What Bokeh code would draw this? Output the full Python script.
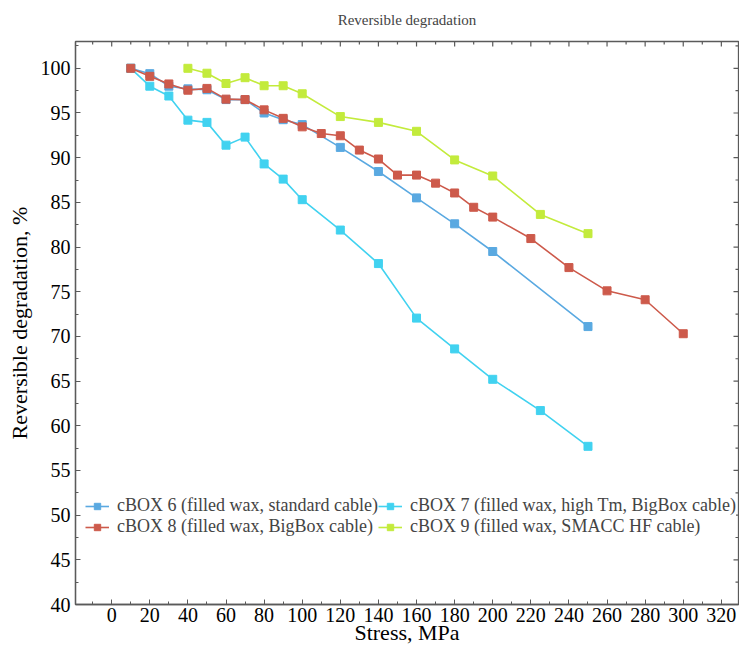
import math
from bokeh.plotting import figure
from bokeh.models import (LinearAxis, SingleIntervalTicker, Range1d, Legend, LegendItem)
from bokeh.embed import file_html
from bokeh.resources import INLINE

# ---- data ----
x6 = [10, 20, 30, 40, 50, 60, 70, 80, 90, 100, 120, 140, 160, 180, 200, 250]
y6 = [100, 99.4, 98.0, 97.7, 97.6, 96.5, 96.5, 95.0, 94.25, 93.7, 91.15, 88.45, 85.5, 82.6, 79.5, 71.1]

x7 = [10, 20, 30, 40, 50, 60, 70, 80, 90, 100, 120, 140, 160, 180, 200, 225, 250]
y7 = [100, 98.0, 96.9, 94.2, 93.95, 91.4, 92.3, 89.3, 87.6, 85.3, 81.9, 78.15, 72.05, 68.6, 65.2, 61.7, 57.7]

x8 = [10, 20, 30, 40, 50, 60, 70, 80, 90, 100, 110, 120, 130, 140, 150, 160, 170, 180, 190, 200, 220, 240, 260, 280, 300]
y8 = [100, 99.1, 98.25, 97.55, 97.75, 96.55, 96.5, 95.35, 94.4, 93.45, 92.7, 92.45, 90.85, 89.85, 88.05, 88.05, 87.15, 86.05, 84.45, 83.35, 80.95, 77.7, 75.1, 74.1, 70.3]

x9 = [40, 50, 60, 70, 80, 90, 100, 120, 140, 160, 180, 200, 225, 250]
y9 = [100, 99.45, 98.3, 98.95, 98.05, 98.05, 97.15, 94.6, 93.95, 92.95, 89.75, 87.95, 83.65, 81.5]

labels = [
    "cBOX 6 (filled wax, standard cable)",
    "cBOX 7 (filled wax, high Tm, BigBox cable)",
    "cBOX 8 (filled wax, BigBox cable)",
    "cBOX 9 (filled wax, SMACC HF cable)",
]
colors = ["#5aa9e1", "#41d2f0", "#cd5a4b", "#c3eb3c"]

title_text = "Reversible degradation"
xlabel = "Stress, MPa"
ylabel = "Reversible degradation, %"

XMIN, XMAX = -19, 329
YMIN, YMAX = 40, 103

FONT = "Liberation Serif"
AXIS_COLOR = "#5a5a5a"

p = figure(width=739, height=651, output_backend="svg", toolbar_location=None,
           x_range=Range1d(XMIN, XMAX), y_range=Range1d(YMIN, YMAX),
           min_border_left=75, min_border_right=1, min_border_top=41, min_border_bottom=47,
           x_axis_type=None, y_axis_type=None)

p.title.text = title_text
p.title.align = "center"
p.title.vertical_align = "top"
p.title.text_font = FONT
p.title.text_font_size = "15px"
p.title.text_font_style = "normal"
p.title.standoff = 23

xt = SingleIntervalTicker(interval=20, num_minor_ticks=2)
yt = SingleIntervalTicker(interval=5, num_minor_ticks=2)

def style_axis(ax):
    ax.axis_line_color = AXIS_COLOR
    ax.axis_line_width = 1.3
    ax.major_tick_in = 5
    ax.major_tick_out = 0
    ax.minor_tick_in = 3
    ax.minor_tick_out = 0
    ax.major_tick_line_color = AXIS_COLOR
    ax.minor_tick_line_color = AXIS_COLOR
    ax.major_label_text_font = FONT
    ax.major_label_text_font_size = "20px"
    ax.major_label_text_color = "black"
    ax.axis_label_text_font = FONT
    ax.axis_label_text_font_size = "22px"
    ax.axis_label_text_font_style = "normal"
    ax.axis_label_text_color = "black"

xb = LinearAxis(ticker=xt, axis_label=xlabel)
style_axis(xb)
xb.major_label_standoff = 3
xb.axis_label_standoff = -5
p.add_layout(xb, "below")

yl = LinearAxis(ticker=yt, axis_label=ylabel)
style_axis(yl)
yl.major_label_standoff = 5
yl.axis_label_standoff = 6
p.add_layout(yl, "left")

p.xgrid.ticker = xt
p.xgrid.grid_line_color = "#c8c8c8"
p.xgrid.grid_line_width = 1.3
p.xgrid.minor_grid_line_color = "#b8b8b8"
p.xgrid.minor_grid_line_dash = "4 3"
p.xgrid.minor_grid_line_width = 1
p.ygrid.grid_line_color = None

p.outline_line_color = AXIS_COLOR
p.outline_line_width = 1.3
p.background_fill_color = "white"
p.border_fill_color = "white"

# mirrored inward ticks on the right and top frame edges (from the tick intervals)
ry_major = [v for v in range(YMIN, YMAX + 1, 5)]
ry_minor = [v + 2.5 for v in range(YMIN, YMAX, 5) if v + 2.5 < YMAX]
p.scatter([XMAX] * len(ry_major), ry_major, marker="dash", size=10, line_color=AXIS_COLOR, line_width=1.2)
p.scatter([XMAX] * len(ry_minor), ry_minor, marker="dash", size=6, line_color=AXIS_COLOR, line_width=1.2)
tx_major = [v for v in range(0, XMAX + 1, 20)]
tx_minor = [v + 10 for v in range(-20, XMAX, 20) if XMIN < v + 10 < XMAX]
p.scatter(tx_major, [YMAX] * len(tx_major), marker="dash", angle=math.pi / 2, size=10,
          line_color=AXIS_COLOR, line_width=1.2)
p.scatter(tx_minor, [YMAX] * len(tx_minor), marker="dash", angle=math.pi / 2, size=6,
          line_color=AXIS_COLOR, line_width=1.2)

items = []
for xs, ys, c, lab in zip([x6, x7, x8, x9], [y6, y7, y8, y9], colors, labels):
    l = p.line(xs, ys, line_color=c, line_width=1.6)
    s = p.scatter(xs, ys, marker="square", size=8, fill_color=c, line_color=c)
    items.append(LegendItem(label=lab, renderers=[l, s]))

legend = Legend(items=items, orientation="horizontal", ncols=2, location=(10, 67),
                label_text_font=FONT, label_text_font_size="18px",
                label_standoff=8, glyph_width=24, glyph_height=16,
                spacing=0, padding=5, margin=0,
                border_line_color=None, background_fill_color="white",
                background_fill_alpha=1.0, label_height=16)
p.add_layout(legend, "center")

open("out.html", "w").write(file_html(p, INLINE))
